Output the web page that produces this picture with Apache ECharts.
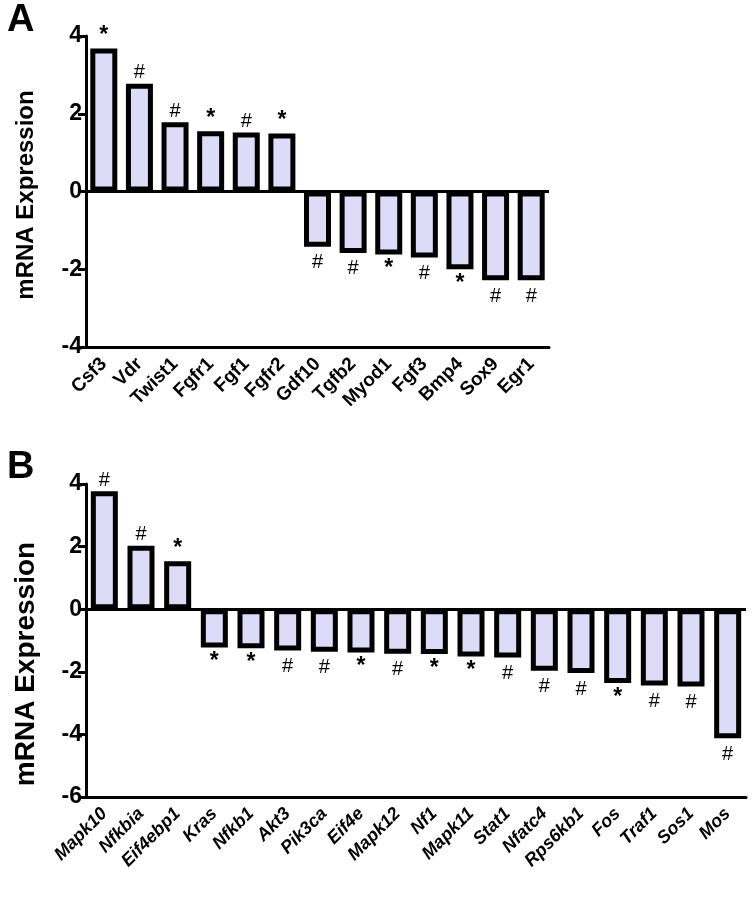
<!DOCTYPE html>
<html>
<head>
<meta charset="utf-8">
<script src="https://cdn.jsdelivr.net/npm/echarts@6/dist/echarts.min.js"></script>
<style>
html, body { margin: 0; padding: 0; background: #fff; }
#chart { width: 754px; height: 902px; }
</style>
</head>
<body>
<div id="chart"></div>
<script>
// panel A
var genesA = ['Csf3', 'Vdr', 'Twist1', 'Fgfr1', 'Fgf1', 'Fgfr2', 'Gdf10', 'Tgfb2', 'Myod1', 'Fgf3', 'Bmp4', 'Sox9', 'Egr1'];
var valuesA = [3.68, 2.77, 1.78, 1.55, 1.52, 1.49, -1.42, -1.58, -1.62, -1.70, -2.00, -2.28, -2.28];
var sigA = ['*', '#', '#', '*', '#', '*', '#', '#', '*', '#', '*', '#', '#'];
var ticksA = [-4, 4, 2];   // min, max, interval

// panel B
var genesB = ['Mapk10', 'Nfkbia', 'Eif4ebp1', 'Kras', 'Nfkb1', 'Akt3', 'Pik3ca', 'Eif4e', 'Mapk12', 'Nf1', 'Mapk11', 'Stat1', 'Nfatc4', 'Rps6kb1', 'Fos', 'Traf1', 'Sos1', 'Mos'];
var valuesB = [3.77, 2.03, 1.53, -1.22, -1.25, -1.32, -1.36, -1.38, -1.42, -1.43, -1.51, -1.54, -1.97, -2.04, -2.36, -2.44, -2.47, -4.12];
var sigB = ['#', '#', '*', '*', '*', '#', '#', '*', '#', '*', '*', '#', '#', '#', '*', '#', '#', '#'];
var ticksB = [-6, 4, 2];

var yTitle = 'mRNA Expression';
var FONT = 'Liberation Sans, Arial, sans-serif';

// 每根柱子带显著性标记
function makeData(values, sig) {
    var out = [];
    for (var i = 0; i < values.length; i++) {
        var star = sig[i] === '*';
        out.push({
            value: values[i],
            label: {
                show: true,
                position: values[i] >= 0 ? 'top' : 'bottom',
                distance: values[i] >= 0 ? 1 : (star ? 3 : 6),
                formatter: sig[i],
                color: '#000',
                fontSize: star ? 23 : 20,
                fontWeight: star ? 'bold' : 'normal',
                fontFamily: FONT
            }
        });
    }
    return out;
}

function xAxisOf(idx, genes, italic, size) {
    return {
        type: 'category',
        gridIndex: idx,
        data: genes,
        axisLine: { onZero: false, lineStyle: { color: '#000', width: 3 } },
        axisTick: { alignWithLabel: true, length: 10, lineStyle: { color: '#000', width: 3 } },
        axisLabel: {
            interval: 0,
            rotate: 45,
            margin: 14,
            color: '#000',
            fontSize: size,
            fontWeight: 'bold',
            fontStyle: italic ? 'italic' : 'normal',
            fontFamily: FONT
        }
    };
}

function yAxisOf(idx, ticks) {
    return {
        type: 'value',
        gridIndex: idx,
        min: ticks[0],
        max: ticks[1],
        interval: ticks[2],
        splitLine: { show: false },
        axisLine: { show: true, lineStyle: { color: '#000', width: 3 } },
        axisTick: { show: true, length: 8, lineStyle: { color: '#000', width: 3 } },
        axisLabel: { margin: 4, color: '#000', fontSize: 23, fontWeight: 'bold', fontFamily: FONT }
    };
}

function barSeries(idx, values, sig) {
    return {
        type: 'bar',
        xAxisIndex: idx,
        yAxisIndex: idx,
        data: makeData(values, sig),
        barWidth: 27,
        itemStyle: { color: '#dcdcf8', borderColor: '#000', borderWidth: 5 },
        markLine: {
            silent: true,
            symbol: 'none',
            label: { show: false },
            lineStyle: { color: '#000', width: 3, type: 'solid' },
            data: [{ yAxis: 0 }]
        }
    };
}

function titleText(x, y, text, size) {
    return {
        type: 'text',
        x: x,
        y: y,
        rotation: Math.PI / 2,
        style: {
            text: text,
            fontSize: size,
            fontWeight: 'bold',
            fontFamily: FONT,
            fill: '#000',
            align: 'center',
            verticalAlign: 'middle',
            textAlign: 'center',
            textVerticalAlign: 'middle'
        }
    };
}

var myChart = echarts.init(document.getElementById('chart'));

var option = {
    backgroundColor: '#fff',
    animation: false,
    grid: [
        { left: 86, top: 36, width: 463, height: 311 },
        { left: 86, top: 484, width: 660, height: 313 }
    ],
    xAxis: [xAxisOf(0, genesA, false, 19), xAxisOf(1, genesB, true, 18)],
    yAxis: [yAxisOf(0, ticksA), yAxisOf(1, ticksB)],
    series: [barSeries(0, valuesA, sigA), barSeries(1, valuesB, sigB)],
    graphic: [
        { type: 'text', left: 7, top: 2, style: { text: 'A', fontSize: 38, fontWeight: 'bold', fontFamily: FONT, fill: '#000' } },
        { type: 'text', left: 7, top: 449, style: { text: 'B', fontSize: 38, fontWeight: 'bold', fontFamily: FONT, fill: '#000' } },
        titleText(26, 195, yTitle, 24),
        titleText(26, 664, yTitle, 28)
    ]
};

myChart.setOption(option);
</script>
</body>
</html>
